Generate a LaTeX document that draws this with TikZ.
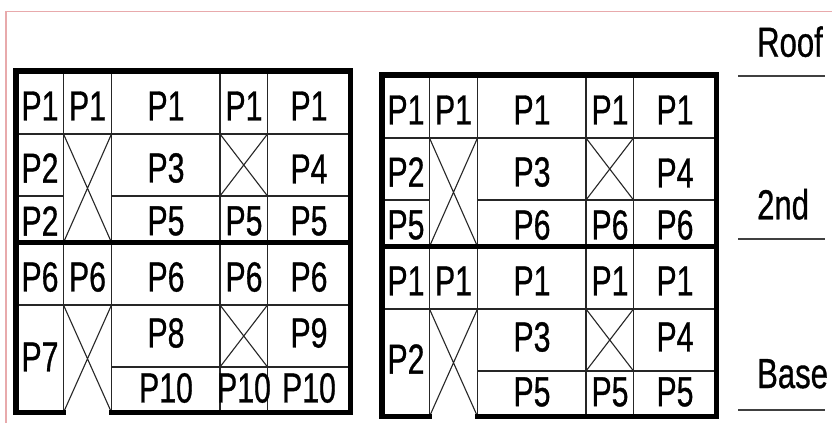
\documentclass[tikz,border=0pt]{standalone}
\usepackage{fontspec}
\setmainfont{Liberation Sans}
\newfontfamily\lblfont[FakeBold=0.9]{Liberation Sans}
\definecolor{pinkframe}{RGB}{232,170,172}
\begin{document}
\begin{tikzpicture}[x=1pt,y=-1pt,
  thinline/.style={line width=1.1pt,black!85},
  thickframe/.style={line width=5.4pt,line cap=rect,line join=miter},
  lbl/.style={inner sep=0pt,font=\lblfont\fontsize{42}{42}\selectfont,xscale=0.72},
  lvl/.style={inner sep=0pt,anchor=base west,font=\lblfont\fontsize{42}{42}\selectfont,xscale=0.74},
  lvlline/.style={line width=1.4pt,black!75}]
\useasboundingbox (0,0) rectangle (832,423);
\fill[white] (0,0) rectangle (832,423);
% pink frame
\draw[pinkframe,line width=1.6pt] (6,423) -- (6,11.5) -- (832,11.5);

% ---------- left building ----------
\begin{scope}[shift={(16,71)},name prefix=A-]
  \draw[thinline] (47.5,0)--(47.5,341.5) (95.5,0)--(95.5,341.5)
                  (204,0)--(204,341.5) (251.5,0)--(251.5,341.5);
  \draw[thinline] (0,63)--(334.5,63) (0,125)--(47.5,125) (95.5,125)--(334.5,125)
                  (0,234)--(334.5,234) (95.5,296)--(334.5,296);
  \draw[thinline] (47.5,63)--(95.5,171.5) (95.5,63)--(47.5,171.5)
                  (204,63)--(251.5,125) (251.5,63)--(204,125)
                  (47.5,234)--(95.5,341.5) (95.5,234)--(47.5,341.5)
                  (204,234)--(251.5,296) (251.5,234)--(204,296);
  \draw[thickframe] (47.5,341.5)--(0,341.5)--(0,0)--(334.5,0)--(334.5,341.5)--(95.5,341.5);
  \draw[thickframe] (0,171.5)--(334.5,171.5);
  % labels
  \node[lbl] (r1c1) at (24,35) {P1};
  \node[lbl] (r1c2) at (71.5,35) {P1};
  \node[lbl] (r1c3) at (150,35) {P1};
  \node[lbl] (r1c4) at (228,35) {P1};
  \node[lbl] (r1c5) at (293,35) {P1};
  \node[lbl] (r2c1) at (24,97) {P2};
  \node[lbl] (r2c3) at (150,97) {P3};
  \node[lbl] (r2c5) at (293,98) {P4};
  \node[lbl] (r3c1) at (24,150) {P2};
  \node[lbl] (r3c3) at (150,150) {P5};
  \node[lbl] (r3c4) at (228,150) {P5};
  \node[lbl] (r3c5) at (293,150) {P5};
  \node[lbl] (r4c1) at (24,206) {P6};
  \node[lbl] (r4c2) at (71.5,206) {P6};
  \node[lbl] (r4c3) at (150,206) {P6};
  \node[lbl] (r4c4) at (228,206) {P6};
  \node[lbl] (r4c5) at (293,206) {P6};
  \node[lbl] (r5c1) at (24,286) {P7};
  \node[lbl] (r5c3) at (150,262) {P8};
  \node[lbl] (r5c5) at (293,262) {P9};
  \node[lbl] (r6c3) at (150,317) {P10};
  \node[lbl] (r6c4) at (228,317) {P10};
  \node[lbl] (r6c5) at (293,317) {P10};
\end{scope}

% ---------- right building ----------
\begin{scope}[shift={(382,75)},name prefix=B-]
  \draw[thinline] (47.5,0)--(47.5,341.5) (95.5,0)--(95.5,341.5)
                  (204,0)--(204,341.5) (251.5,0)--(251.5,341.5);
  \draw[thinline] (0,63)--(334.5,63) (0,125)--(47.5,125) (95.5,125)--(334.5,125)
                  (0,234)--(334.5,234) (95.5,296)--(334.5,296);
  \draw[thinline] (47.5,63)--(95.5,171.5) (95.5,63)--(47.5,171.5)
                  (204,63)--(251.5,125) (251.5,63)--(204,125)
                  (47.5,234)--(95.5,341.5) (95.5,234)--(47.5,341.5)
                  (204,234)--(251.5,296) (251.5,234)--(204,296);
  \draw[thickframe] (47.5,341.5)--(0,341.5)--(0,0)--(334.5,0)--(334.5,341.5)--(95.5,341.5);
  \draw[thickframe] (0,171.5)--(334.5,171.5);
  % labels
  \node[lbl] (r1c1) at (24,35) {P1};
  \node[lbl] (r1c2) at (71.5,35) {P1};
  \node[lbl] (r1c3) at (150,35) {P1};
  \node[lbl] (r1c4) at (228,35) {P1};
  \node[lbl] (r1c5) at (293,35) {P1};
  \node[lbl] (r2c1) at (24,97) {P2};
  \node[lbl] (r2c3) at (150,97) {P3};
  \node[lbl] (r2c5) at (293,98) {P4};
  \node[lbl] (r3c1) at (24,150) {P5};
  \node[lbl] (r3c3) at (150,150) {P6};
  \node[lbl] (r3c4) at (228,150) {P6};
  \node[lbl] (r3c5) at (293,150) {P6};
  \node[lbl] (r4c1) at (24,206) {P1};
  \node[lbl] (r4c2) at (71.5,206) {P1};
  \node[lbl] (r4c3) at (150,206) {P1};
  \node[lbl] (r4c4) at (228,206) {P1};
  \node[lbl] (r4c5) at (293,206) {P1};
  \node[lbl] (r5c1) at (24,284) {P2};
  \node[lbl] (r5c3) at (150,262) {P3};
  \node[lbl] (r5c5) at (293,262) {P4};
  \node[lbl] (r6c3) at (150,317) {P5};
  \node[lbl] (r6c4) at (228,317) {P5};
  \node[lbl] (r6c5) at (293,317) {P5};
\end{scope}

% ---------- level labels ----------
\node[lvl] (roof) at (757,56.7) {Roof};
\node[lvl] (second) at (757,219.3) {2nd};
\node[lvl] (base) at (757,388) {Base};
\coordinate (roofa) at (738,76);   \coordinate (roofb) at (825,76);
\coordinate (seca) at (738,239);   \coordinate (secb) at (825,239);
\coordinate (basea) at (738,410);  \coordinate (baseb) at (825,410);
\draw[lvlline] (roofa) -- (roofb);
\draw[lvlline] (seca) -- (secb);
\draw[lvlline] (basea) -- (baseb);
\end{tikzpicture}
\end{document}
